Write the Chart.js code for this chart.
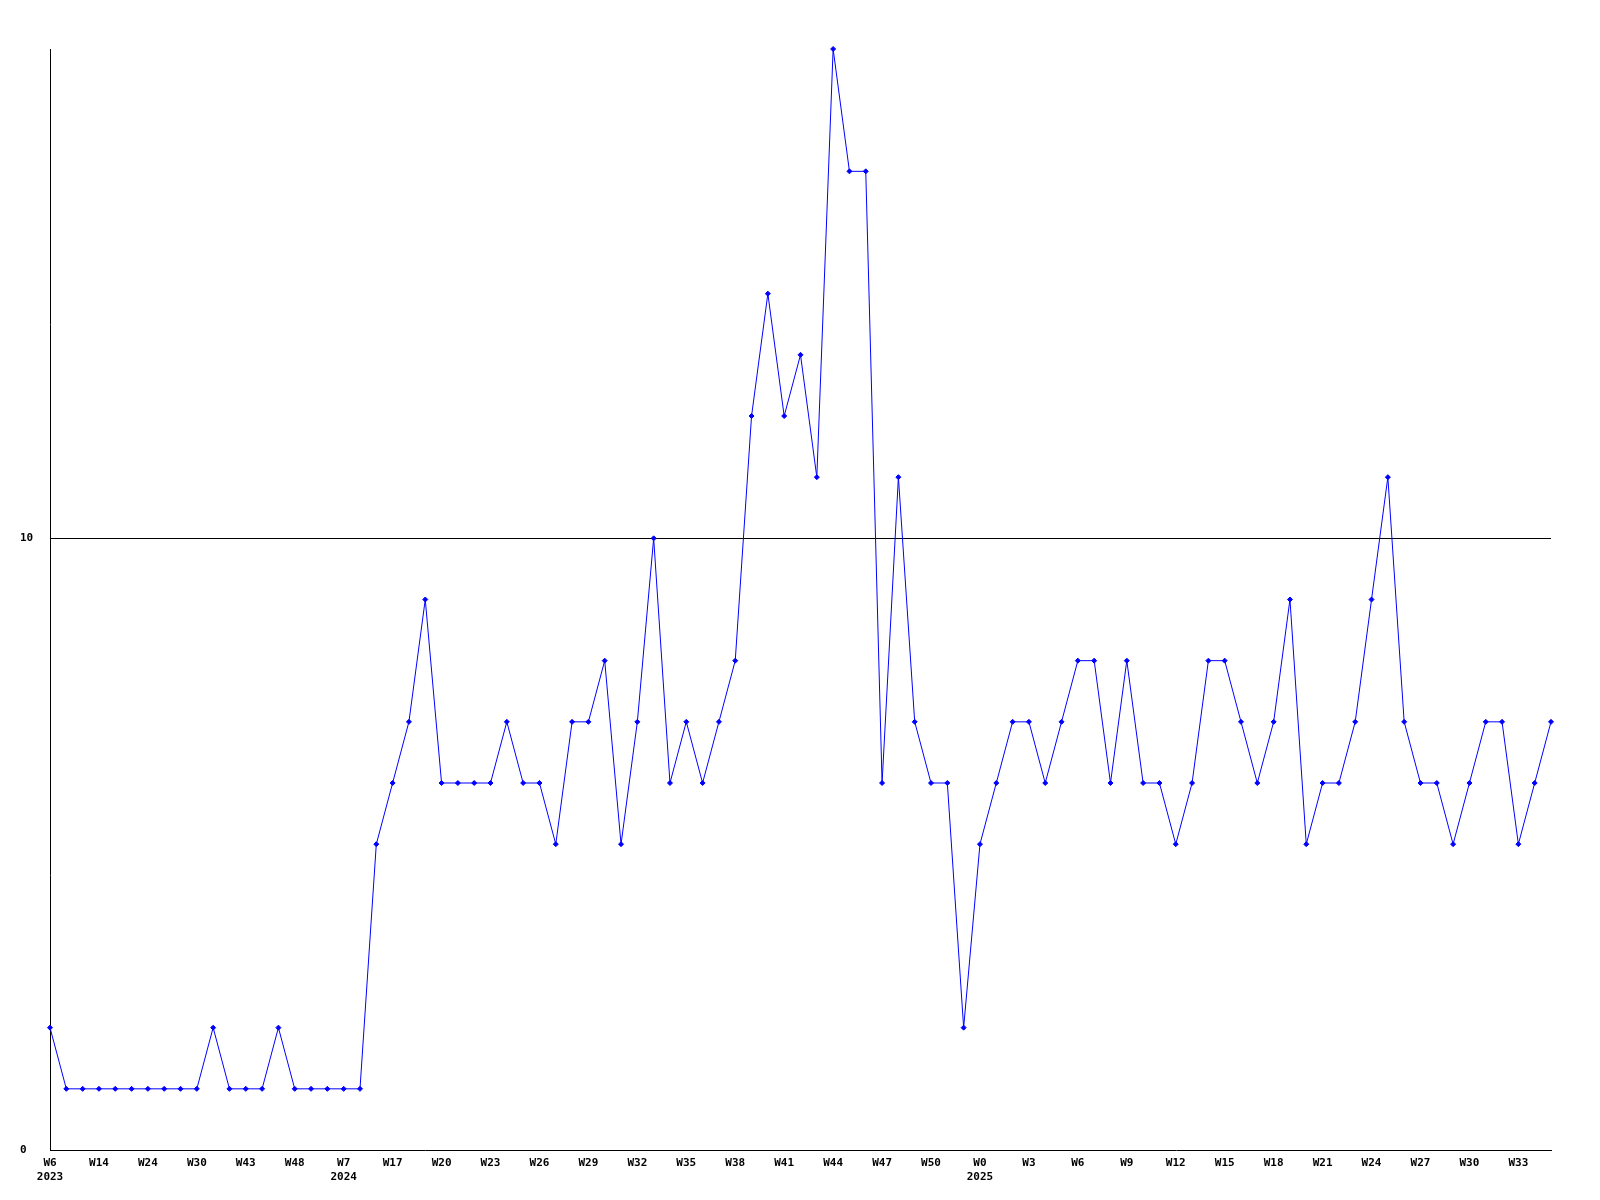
<!DOCTYPE html>
<html>
<head>
<meta charset="utf-8">
<script src="https://cdn.jsdelivr.net/npm/chart.js@4"></script>
<style>
  body { margin: 0; background: #fff; }
  #wrap { width: 1600px; height: 1200px; }
</style>
</head>
<body>
<div id="wrap"><canvas id="grafico" width="1600" height="1200"></canvas></div>
<script>
// ======= Dados =======
const weeks = [
  'W6','W8','W11','W14','W17','W21','W24','W26','W28','W30',
  'W33','W38','W43','W45','W46','W48','W50','W52','W7','W11',
  'W14','W17','W18','W19','W20','W21','W22','W23','W24','W25',
  'W26','W27','W28','W29','W30','W31','W32','W33','W34','W35',
  'W36','W37','W38','W39','W40','W41','W42','W43','W44','W45',
  'W46','W47','W48','W49','W50','W51','W52','W0','W1','W2',
  'W3','W4','W5','W6','W7','W8','W9','W10','W11','W12',
  'W13','W14','W15','W16','W17','W18','W19','W20','W21','W22',
  'W23','W24','W25','W26','W27','W28','W29','W30','W31','W32',
  'W33','W34','W35'
];
const yearMarks = { 0: '2023', 18: '2024', 57: '2025' };
const values = [
  2,1,1,1,1,1,1,1,1,1,
  2,1,1,1,2,1,1,1,1,1,
  5,6,7,9,6,6,6,6,7,6,
  6,5,7,7,8,5,7,10,6,7,
  6,7,8,12,14,12,13,11,18,16,
  16,6,11,7,6,6,2,5,6,7,
  7,6,7,8,8,6,8,6,6,5,
  6,8,8,7,6,7,9,5,6,6,
  7,9,11,7,6,6,5,6,7,7,
  5,6,7
];
const yTicks = [0, 10];

const fonte = { family: '"DejaVu Sans Mono", monospace', size: 11, weight: 'bold', lineHeight: 1.27 };

// ======= Gráfico =======
new Chart(document.getElementById('grafico'), {
  type: 'line',
  data: {
    labels: weeks,
    datasets: [{
      data: values,
      borderColor: '#0000ff',
      backgroundColor: '#0000ff',
      borderWidth: 1,
      pointStyle: 'rectRot',
      pointRadius: 2.5,
      pointBorderWidth: 1,
      tension: 0,
      fill: false,
      clip: false
    }]
  },
  options: {
    responsive: false,
    animation: false,
    layout: { padding: { top: 49, right: 49, left: 20, bottom: 0 } },
    plugins: { legend: { display: false }, tooltip: { enabled: false } },
    scales: {
      x: {
        type: 'category',
        offset: false,
        grid: { display: false, drawTicks: false },
        border: { color: '#000', width: 1 },
        ticks: {
          autoSkip: false,
          maxRotation: 0,
          padding: 6,
          color: '#000',
          font: fonte,
          callback: (v, i) => {
            if (i % 3 !== 0) return null;
            return yearMarks[i] ? [weeks[i], yearMarks[i]] : weeks[i];
          }
        },
        afterFit: s => { s.height = 50; }
      },
      y: {
        min: 0,
        max: 18,
        grid: {
          drawTicks: false,
          color: ctx => ctx.tick && ctx.tick.value === 10 ? '#000' : 'rgba(0,0,0,0)',
          lineWidth: 1
        },
        border: { color: '#000', width: 1 },
        ticks: { crossAlign: 'far', padding: 0, color: '#000', font: fonte },
        afterBuildTicks: s => { s.ticks = yTicks.map(v => ({ value: v })); },
        afterFit: s => { s.width = 30; }
      }
    }
  }
});
</script>
</body>
</html>
